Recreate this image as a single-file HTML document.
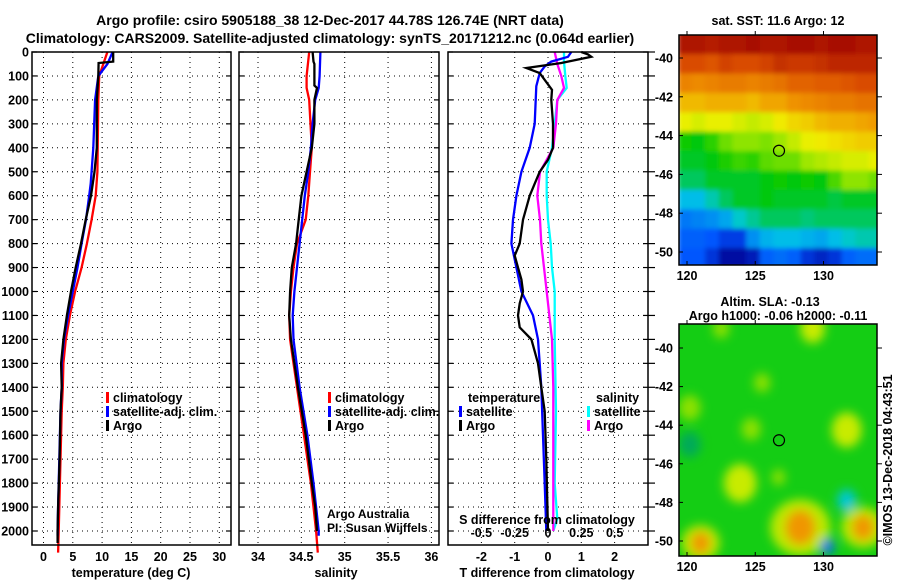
<!DOCTYPE html>
<html><head><meta charset="utf-8"><style>
html,body{margin:0;padding:0;background:#fff;}
svg{display:block;font-family:"Liberation Sans",Arial,sans-serif;}
.b{font-weight:bold;font-size:12.5px;}
.t{font-weight:bold;font-size:14px;}
</style></head><body>
<svg id="fig" width="900" height="580" viewBox="0 0 900 580" xmlns="http://www.w3.org/2000/svg">
<text class="t" x="330" y="25" text-anchor="middle">Argo profile: csiro 5905188_38 12-Dec-2017 44.78S 126.74E (NRT data)</text>
<text class="t" x="330" y="43" text-anchor="middle">Climatology: CARS2009. Satellite-adjusted climatology: synTS_20171212.nc (0.064d earlier)</text>
<g id="layer"></g>
</svg>
<script>
// ---------- data ----------
const depthTicks=[0,100,200,300,400,500,600,700,800,900,1000,1100,1200,1300,1400,1500,1600,1700,1800,1900,2000];
const tempTicks=[0,5,10,15,20,25,30];
const salTicks=[34,34.5,35,35.5,36];
const tdTicks=[-2,-1,0,1,2];
const sdTicks=[-0.5,-0.25,0,0.25,0.5];
const sdTickLabels=["-0.5","-0.25","0","0.25","0.5"];
const salTickLabels=["34","34.5","35","35.5","36"];

const tempArgoD=[0,40,46,100,200,400,500,600,700,800,900,1000,1100,1200,1300,1400,1500,1700,1900,2000,2050];
const tempArgo=[11.9,11.9,9.4,9.35,9.1,9.1,8.7,8.1,7.2,6.4,5.5,4.7,4.0,3.4,3.0,3.1,2.9,2.75,2.5,2.4,2.4];
const tempClimD=[0,100,200,500,600,700,800,900,1000,1100,1200,1300,1400,1500,1700,1900,2000,2090];
const tempClim=[10.9,9.5,9.35,9.2,8.9,8.2,7.4,6.5,5.4,4.5,3.8,3.4,3.3,3.1,2.9,2.7,2.6,2.5];
const tempSatD=[0,50,100,200,400,550,600,700,800,900,1000,1100,1200,1300,1400,1500,1700,1900,2000,2020];
const tempSat=[11.8,10.9,9.35,8.8,8.5,8.05,7.8,7.25,6.5,5.8,5.0,4.2,3.5,3.1,3.1,2.9,2.7,2.5,2.4,2.4];

const salArgoD=[0,40,50,140,150,200,300,400,500,600,700,800,900,1000,1100,1200,1400,1600,1800,1900,2000];
const salArgo=[34.63,34.64,34.65,34.65,34.68,34.65,34.65,34.62,34.56,34.5,34.47,34.44,34.39,34.37,34.36,34.38,34.46,34.55,34.62,34.66,34.68];
const salClimD=[0,100,150,200,400,500,600,700,800,900,1000,1100,1200,1300,1400,1500,1600,1700,1800,1900,2000,2090];
const salClim=[34.59,34.56,34.56,34.59,34.62,34.6,34.58,34.55,34.45,34.41,34.38,34.36,34.37,34.41,34.45,34.49,34.53,34.57,34.61,34.64,34.67,34.69];
const salSatD=[0,100,150,200,300,400,500,600,700,800,900,1000,1100,1200,1400,1600,1800,2000,2020];
const salSat=[34.72,34.71,34.7,34.66,34.63,34.61,34.58,34.54,34.51,34.48,34.45,34.42,34.4,34.41,34.48,34.57,34.64,34.7,34.7];

const tdArgoD=[0,10,20,46,67,88,158,200,300,400,450,500,550,600,700,800,850,900,950,1000,1050,1100,1150,1200,1300,1400,1500,1700,2000];
const tdArgo=[1.0,1.2,1.3,0.4,-0.65,-0.25,0.12,0.1,0.15,0.15,0.0,-0.25,-0.4,-0.55,-0.75,-0.85,-1.0,-0.9,-0.8,-0.75,-0.85,-0.9,-0.85,-0.5,-0.3,-0.2,-0.1,-0.05,0];
const tdSatD=[0,20,40,60,88,143,300,400,500,600,700,800,900,1000,1100,1200,1300,1400,1600,1800,2000];
const tdSat=[0.7,0.6,0.1,-0.1,-0.25,-0.35,-0.4,-0.55,-0.8,-0.95,-1.05,-1.1,-0.95,-0.8,-0.45,-0.3,-0.25,-0.2,-0.15,-0.1,-0.05];
const sdArgoD=[0,50,100,150,200,300,400,500,600,700,800,900,1000,1200,1400,1600,1800,2000];
const sdArgo=[0.05,0.07,0.1,0.12,0.07,0.06,0.04,-0.06,-0.08,-0.06,-0.05,-0.03,-0.01,0.03,0.04,0.04,0.04,0.04];
const sdSatD=[0,40,100,150,200,300,400,500,600,700,800,900,1000,1200,1500,1800,1950,2000];
const sdSat=[0.12,0.12,0.13,0.14,0.07,0.05,0.03,-0.01,-0.01,0.0,0.02,0.03,0.05,0.05,0.06,0.05,0.07,0.04];

// SST grid: rows 1deg lat from -38.8 southwards, cols 1deg lon from 119.4
const sstRows=[
[14.8,14.8,14.7,14.8,14.8,14.9,14.8,14.8,14.9,14.9,14.8,14.9,14.9,14.8,14.8],
[14.2,14.2,14.1,14.3,14.2,14.2,14.3,14.5,14.4,14.4,14.5,14.6,14.6,14.6,14.6],
[13.5,13.4,13.5,13.6,13.6,13.5,13.6,13.7,13.9,13.9,14.0,14.0,14.1,14.2,14.2],
[12.9,12.9,13.0,13.0,13.0,12.9,13.1,13.1,13.3,13.4,13.5,13.6,13.6,13.7,13.7],
[12.3,12.2,12.3,12.3,12.2,12.1,12.2,12.4,12.6,12.7,12.9,13.0,13.0,13.1,13.2],
[11.0,10.9,11.2,11.6,11.8,11.8,11.7,11.9,12.1,12.3,12.4,12.5,12.6,12.7,12.7],
[10.8,10.8,10.9,11.1,11.3,11.2,11.5,11.6,11.6,11.9,12.0,12.1,12.2,12.2,12.3],
[10.6,10.6,10.8,10.8,10.8,10.8,10.9,11.0,10.9,11.0,10.9,11.4,11.8,11.8,11.6],
[10.0,10.0,10.3,10.6,10.8,10.8,10.9,10.8,10.8,10.8,10.8,10.7,10.8,10.8,10.8],
[9.4,9.5,9.6,9.8,10.2,10.4,10.6,10.6,10.6,10.5,10.6,10.6,10.6,10.6,10.6],
[9.2,9.2,9.1,8.8,8.8,9.6,9.9,10.0,10.0,9.9,9.8,10.0,10.2,10.3,10.3],
[9.1,9.1,8.7,8.2,8.2,8.4,9.2,9.3,9.2,8.7,8.5,8.7,9.2,9.3,9.3]];
// SLA anomaly blobs
const slaLon=[131.7,123.9,121.0,128.3,132.9,130.3,131.7,120.2,120.2,129.2,122.5,125.5,124.7,126.7];
const slaLat=[-44.25,-47.0,-50.1,-49.3,-49.3,-50.3,-47.9,-45.0,-43.1,-39.0,-39.0,-41.8,-44.2,-46.7];
const slaVal=[0.12,0.1,0.25,0.22,0.22,-0.3,-0.2,-0.08,0.08,0.1,0.08,0.06,0.08,0.06];
const slaR=[1.1,1.2,0.7,1.1,0.8,0.5,0.7,0.8,0.8,0.9,0.6,0.6,0.7,0.5];
const floatLon=126.74, floatLat=-44.78;

// ---------- helpers ----------
const NS="http://www.w3.org/2000/svg";
const L=document.getElementById('layer');
function mk(tag,at,parent){const e=document.createElementNS(NS,tag);for(const k in at)e.setAttribute(k,at[k]);(parent||L).appendChild(e);return e;}
const yD=d=>52+0.2395*d;
const xT=t=>43.5+5.86*t;
const xS=s=>258+86.7*(s-34);
const xTD=v=>548+33.3*v;
const xSD=v=>548+133.3*v;
const PT=52,PB=545;

function panel(x0,x1,name){
  const g=mk('g',{});
  
  
  return g;
}
function grid(g,x0,x1,xs){
  depthTicks.forEach(d=>{const y=yD(d);if(d>0){const l=mk('line',{x1:x0,x2:x1,y1:y,y2:y,stroke:'#000','stroke-width':1,'stroke-dasharray':'1,4'},g);}
    mk('line',{x1:x0,x2:x0+5,y1:y,y2:y,stroke:'#000','stroke-width':1.2},g);mk('line',{x1:x1-5,x2:x1,y1:y,y2:y,stroke:'#000','stroke-width':1.2},g);});
  xs.forEach(x=>{const l=mk('line',{x1:x,x2:x,y1:PT,y2:PB,stroke:'#000','stroke-width':1,'stroke-dasharray':'1,4'},g);});
}
function frame(g,x0,x1){const r=mk('rect',{x:x0,y:PT,width:x1-x0,height:PB-PT,fill:'none',stroke:'#000','stroke-width':1.5},g);}
function line(g,xs,ds,fx,col,name){
  const pts=xs.map((v,i)=>fx(v).toFixed(1)+','+yD(ds[i]).toFixed(1)).join(' ');
  const p=mk('polyline',{points:pts,fill:'none',stroke:col,'stroke-width':2.3,'stroke-linejoin':'miter'},g);
  
  
}
function txt(g,x,y,s,cls,anchor,name,extra){
  const t=mk('text',Object.assign({x:x,y:y,'text-anchor':anchor||'start'},extra||{}),g);
  t.setAttribute('class',cls||'b');t.textContent=s;
  
  
  return t;
}
function legendItem(g,x,y,col,label,name){
  const r=mk('rect',{x:x,y:y-10,width:3,height:11,fill:col},g);
  
  txt(g,x+7,y,label,'b','start',name);
}

// ---------- panel 1: temperature ----------
const g1=panel(32,231,'temperature-panel');
grid(g1,32,231,tempTicks.map(xT));
line(g1,tempClim,tempClimD,xT,'#ff0000','temp-climatology-line');
line(g1,tempSat,tempSatD,xT,'#0000ff','temp-satellite-line');
line(g1,tempArgo,tempArgoD,xT,'#000000','temp-argo-line');
frame(g1,32,231);
depthTicks.forEach(d=>txt(g1,29,yD(d)+4.5,String(d),'b','end','depth-tick-label'));
tempTicks.forEach(t=>txt(g1,xT(t),561,String(t),'b','middle','temp-tick-label'));
txt(g1,131,577,'temperature (deg C)','b','middle','x-axis-title-temperature');
legendItem(g1,106,402,'#ff0000','climatology','legend-climatology');
legendItem(g1,106,416,'#0000ff','satellite-adj. clim.','legend-satellite-adj');
legendItem(g1,106,430,'#000000','Argo','legend-argo');

// ---------- panel 2: salinity ----------
const g2=panel(239,439,'salinity-panel');
grid(g2,239,439,salTicks.map(xS));
line(g2,salClim,salClimD,xS,'#ff0000','sal-climatology-line');
line(g2,salSat,salSatD,xS,'#0000ff','sal-satellite-line');
line(g2,salArgo,salArgoD,xS,'#000000','sal-argo-line');
frame(g2,239,439);
salTicks.forEach((s,i)=>txt(g2,xS(s),561,salTickLabels[i],'b','middle','sal-tick-label'));
txt(g2,336,577,'salinity','b','middle','x-axis-title-salinity');
legendItem(g2,328,402,'#ff0000','climatology','legend-climatology-2');
legendItem(g2,328,416,'#0000ff','satellite-adj. clim.','legend-satellite-adj-2');
legendItem(g2,328,430,'#000000','Argo','legend-argo-2');
txt(g2,327,518,'Argo Australia','','start','credit-argo-australia',{style:'font-size:12px'});
txt(g2,327,532,'PI: Susan Wijffels','','start','credit-pi',{style:'font-size:12px'});

// ---------- panel 3: differences ----------
const g3=panel(448,648,'difference-panel');
grid(g3,448,648,tdTicks.map(xTD));
line(g3,sdSat,sdSatD,xSD,'#00ffff','sdiff-satellite-line');
line(g3,sdArgo,sdArgoD,xSD,'#ff00ff','sdiff-argo-line');
line(g3,tdSat,tdSatD,xTD,'#0000ff','tdiff-satellite-line');
line(g3,tdArgo,tdArgoD,xTD,'#000000','tdiff-argo-line');
frame(g3,448,648);
depthTicks.forEach(d=>{mk('line',{x1:648,x2:655,y1:yD(d),y2:yD(d),stroke:'#000','stroke-width':1.2},g3);});
tdTicks.forEach(t=>txt(g3,xTD(t),561,String(t),'b','middle','tdiff-tick-label'));
sdTicks.forEach((t,i)=>txt(g3,xSD(t),537,sdTickLabels[i],'b','middle','sdiff-tick-label'));
txt(g3,547,524,'S difference from climatology','b','middle','s-diff-axis-title');
txt(g3,547,577,'T difference from climatology','b','middle','x-axis-title-tdiff');
txt(g3,468,402,'temperature','b','start','legend-temperature-heading');
legendItem(g3,459,416,'#0000ff','satellite','legend-t-satellite');
legendItem(g3,459,430,'#000000','Argo','legend-t-argo');
txt(g3,596,402,'salinity','b','start','legend-salinity-heading');
legendItem(g3,587,416,'#00ffff','satellite','legend-s-satellite');
legendItem(g3,587,430,'#ff00ff','Argo','legend-s-argo');

// ---------- maps ----------
const MX0=679,MX1=877;
const mLon=lon=>687+13.65*(lon-120);
function jet(v){
  const t=Math.max(0,Math.min(1,(v-8)/7));
  const st=[[0,[0,0,140]],[0.15,[0,80,255]],[0.3,[0,200,230]],[0.42,[0,200,0]],[0.55,[150,230,0]],[0.62,[240,240,0]],[0.75,[240,150,0]],[0.88,[220,80,0]],[1,[160,0,0]]];
  for(let i=1;i<st.length;i++){if(t<=st[i][0]){const a=st[i-1],b=st[i];const f=(t-a[0])/(b[0]-a[0]);return 'rgb('+a[1].map((c,k)=>Math.round(c+(b[1][k]-c)*f)).join(',')+')';}}
  return 'rgb(160,0,0)';
}
function mapAxes(g,y0,y1,mLat){
  [-40,-42,-44,-46,-48,-50].forEach(la=>{const y=mLat(la);mk('line',{x1:MX0,x2:MX0+4,y1:y,y2:y,stroke:'#000'},g);mk('line',{x1:MX1,x2:MX1+5,y1:y,y2:y,stroke:'#000'},g);txt(g,673,y+4.5,String(la),'b','end','map-lat-label');});
  [120,125,130].forEach(lo=>{const x=mLon(lo);mk('line',{x1:x,x2:x,y1:y0-4,y2:y0,stroke:'#000'},g);mk('line',{x1:x,x2:x,y1:y1,y2:y1-4,stroke:'#000'},g);txt(g,x,y1+15,String(lo),'b','middle','map-lon-label');});
  const r=mk('rect',{x:MX0,y:y0,width:MX1-MX0,height:y1-y0,fill:'none',stroke:'#000','stroke-width':1.5},g);
  
  const c=mk('circle',{cx:mLon(floatLon),cy:mLat(floatLat),r:5.5,fill:'none',stroke:'#000','stroke-width':1.2},g);
  
}
// SST map
const sY0=35,sY1=265; const sLat=la=>58+19.4*(-40-la);
const gm1=panel(MX0,MX1,'sst-map');
const d1=mk('defs',{},gm1);
const cp1=mk('clipPath',{id:'clip1'},d1);mk('rect',{x:MX0,y:sY0,width:MX1-MX0,height:sY1-sY0},cp1);
const fl1=mk('filter',{id:'soft'},d1);mk('feGaussianBlur',{stdDeviation:2.5},fl1);
const cells1=mk('g',{'clip-path':'url(#clip1)'},gm1);
const cellsIn=mk('g',{filter:'url(#soft)'},cells1);
sstRows.forEach((row,ri)=>row.forEach((v,ci)=>{
  const la=-38.8-ri, lo=119.4+ci;
  const x=mLon(lo), y=sLat(la);
  const r=mk('rect',{x:(x-1).toFixed(1),y:(y-(ri==0?6:0)).toFixed(1),width:15.5,height:ri==0?26:20.5,fill:jet(v)},cellsIn);
  
  
}));
mapAxes(gm1,sY0,sY1,sLat);
txt(gm1,778,25,'sat. SST: 11.6 Argo: 12','b','middle','sst-map-title');

// SLA map
const aY0=324,aY1=556; const aLat=la=>348+19.3*(-40-la);
const gm2=panel(MX0,MX1,'sla-map');
const defs=mk('defs',{},gm2);
const cp=mk('clipPath',{id:'clip2'},defs);mk('rect',{x:MX0,y:aY0,width:MX1-MX0,height:aY1-aY0},cp);
const fl=mk('filter',{id:'blur',x:'-50%',y:'-50%',width:'200%',height:'200%'},defs);mk('feGaussianBlur',{stdDeviation:5},fl);
const cells2=mk('g',{'clip-path':'url(#clip2)'},gm2);
const bg=mk('rect',{x:MX0,y:aY0,width:MX1-MX0,height:aY1-aY0,fill:'rgb(20,205,20)'},cells2);

const blobG=mk('g',{filter:'url(#blur)'},cells2);
function slaCol(v){ if(v>=0.2) return 'rgb(240,150,0)'; if(v>0) return v>=0.1?'rgb(200,235,0)':'rgb(140,225,0)'; if(v<=-0.25) return 'rgb(0,110,240)'; if(v<=-0.15) return 'rgb(0,200,210)'; return 'rgb(0,170,90)';}
slaVal.forEach((v,i)=>{
  if(v>=0.2){const e2=mk('ellipse',{cx:mLon(slaLon[i]),cy:aLat(slaLat[i]),rx:slaR[i]*13.65*2,ry:slaR[i]*16*1.6,fill:'rgb(190,232,0)'},blobG);
    }
});
slaVal.forEach((v,i)=>{
  const e=mk('ellipse',{cx:mLon(slaLon[i]),cy:aLat(slaLat[i]),rx:slaR[i]*13.65,ry:slaR[i]*16,fill:slaCol(v)},blobG);
  
  
});
mapAxes(gm2,aY0,aY1,aLat);
txt(gm2,770,306,'Altim. SLA: -0.13','b','middle','sla-map-title');
txt(gm2,778,320,'Argo h1000: -0.06 h2000: -0.11','b','middle','sla-map-subtitle');
txt(gm2,0,0,'©IMOS 13-Dec-2018 04:43:51','','middle','timestamp',{transform:'translate(892,460) rotate(-90)',style:'font-size:12.5px'});
</script>
</body></html>
